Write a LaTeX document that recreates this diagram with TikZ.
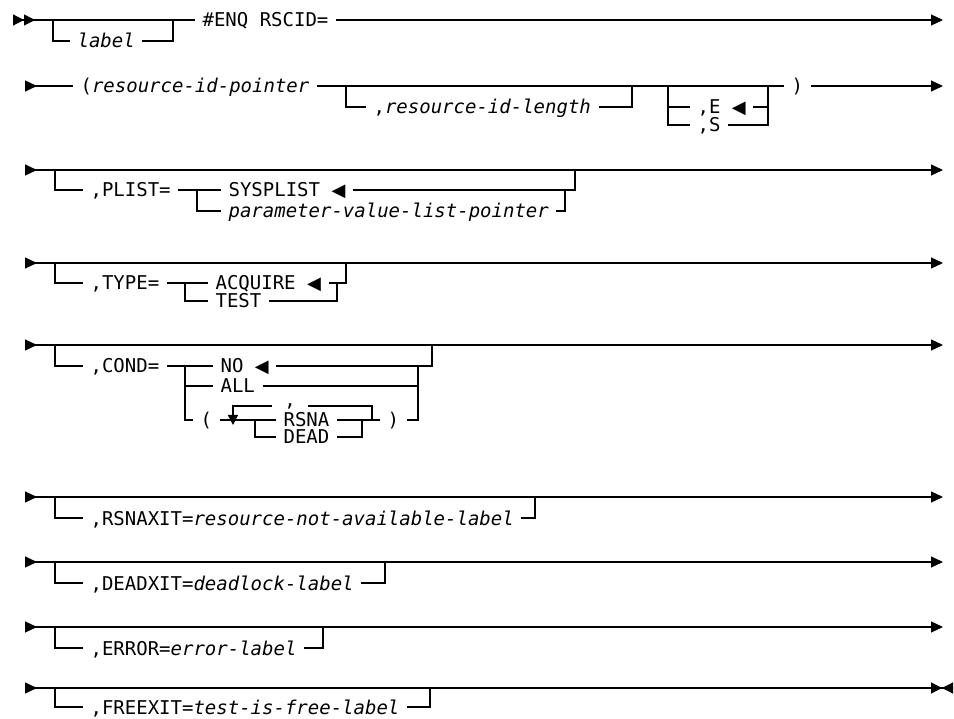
\documentclass[tikz,border=0pt]{standalone}
\usepackage{fontspec}
\setmainfont{DejaVu Sans Mono}
\newfontfamily\symf{DejaVu Sans}
\newcommand{\dflt}{{\symf\fontsize{18}{18}\selectfont ◀}}
\usetikzlibrary{arrows.meta}

\begin{document}
\begin{tikzpicture}[x=1pt,y=-1pt,line width=1.2pt,
  txt/.style={anchor=west,inner xsep=7pt,inner ysep=0pt,text height=14pt,text depth=0pt,font=\fontsize{19}{19}\selectfont},
  rail/.style={{Triangle[reversed,length=12pt,width=11pt]}-{Triangle[length=12pt,width=11pt]}},
  railin/.style={{Triangle[reversed,length=12pt,width=11pt]}-},
  railin2/.style={{Triangle[reversed,length=11pt,width=11pt,sep=0pt]Triangle[reversed,length=11pt,width=11pt,sep=0pt]}-},
  railout/.style={-{Triangle[length=12pt,width=11pt]}},
  railend/.style={{Triangle[reversed,length=12pt,width=11pt]}-{Triangle[length=11pt,width=11pt,sep=0pt]Triangle[reversed,length=11pt,width=11pt,sep=0pt]}},
  rep/.style={-{Triangle[length=10pt,width=10pt]}}]
  \useasboundingbox (0,0) rectangle (954,719);
  % --- radek 1: label, #ENQ RSCID= ---
  \coordinate (s1) at (13,20);
  \coordinate (e1) at (943,20);
  \coordinate (b1) at (53,20);
  \coordinate (j1) at (173,20);
  \node[txt] (lab) at (70,41) {\itshape label};
  \node[txt] (enq) at (195,20) {\#ENQ RSCID=};
  \draw[railin2] (s1) -- (enq.west);
  \draw[railout] (enq.east) -- (e1);
  \draw (b1) |- (lab.west);
  \draw (lab.east) -| (j1);
  % --- radek 2: resource-id ---
  \coordinate (s2) at (25,86);
  \coordinate (e2) at (943,86);
  \coordinate (b2) at (346,86);
  \coordinate (j2) at (632,86);
  \coordinate (ja) at (668,86);
  \coordinate (jb) at (768,86);
  \node[txt] (rptr) at (73,86) {(\textit{resource-id-pointer}};
  \node[txt] (rlen) at (366,107) {,\textit{resource-id-length}};
  \node[txt] (ce) at (690,107) {,E \dflt};
  \node[txt] (cs) at (690,125) {,S};
  \node[txt] (rpar) at (784,86) {)};
  \draw[railin] (s2) -- (rptr.west);
  \draw (rptr.east) -- (rpar.west);
  \draw[railout] (rpar.east) -- (e2);
  \draw (b2) |- (rlen.west);
  \draw (rlen.east) -| (j2);
  \draw (ja) |- (cs.west);
  \draw (ja |- ce.west) -- (ce.west);
  \draw (cs.east) -| (jb);
  \draw (ce.east) -- (ce.east -| jb);
  % --- radek 3: PLIST ---
  \coordinate (s3) at (25,170);
  \coordinate (e3) at (943,170);
  \coordinate (b3) at (55,170);
  \coordinate (f3) at (197,190);
  \coordinate (j3) at (575,170);
  \coordinate (k3) at (565,190);
  \node[txt] (plist) at (83,190) {,PLIST=};
  \node[txt] (sysp) at (221,190) {SYSPLIST \dflt};
  \node[txt] (pvl) at (221,211) {\itshape parameter-value-list-pointer};
  \draw[rail] (s3) -- (e3);
  \draw (b3) |- (plist.west);
  \draw (plist.east) -- (sysp.west);
  \draw (f3) |- (pvl.west);
  \draw (sysp.east) -| (j3);
  \draw (pvl.east) -| (k3);
  % --- radek 4: TYPE ---
  \coordinate (s4) at (25,263);
  \coordinate (e4) at (943,263);
  \coordinate (b4) at (55,263);
  \coordinate (f4) at (185,283);
  \coordinate (j4) at (346,263);
  \coordinate (k4) at (337,283);
  \node[txt] (type) at (83,283) {,TYPE=};
  \node[txt] (acq) at (208,283) {ACQUIRE \dflt};
  \node[txt] (test) at (208,301) {TEST};
  \draw[rail] (s4) -- (e4);
  \draw (b4) |- (type.west);
  \draw (type.east) -- (acq.west);
  \draw (f4) |- (test.west);
  \draw (acq.east) -| (j4);
  \draw (test.east) -| (k4);
  % --- radek 5: COND s opakovanim ---
  \coordinate (s5) at (25,345);
  \coordinate (e5) at (943,345);
  \coordinate (b5) at (55,345);
  \coordinate (f5) at (185,366);
  \coordinate (j5) at (432,345);
  \coordinate (k5) at (418,366);
  \coordinate (g5) at (255,420);
  \coordinate (h5) at (362,420);
  \coordinate (lr) at (372,420);
  \coordinate (ll) at (233,425);
  \node[txt] (cond) at (83,366) {,COND=};
  \node[txt] (no) at (213,366) {NO \dflt};
  \node[txt] (all) at (213,386) {ALL};
  \node[txt] (lp) at (193,420) {(};
  \node[txt] (rsna) at (276,420) {RSNA};
  \node[txt] (dead) at (276,437) {DEAD};
  \node[txt] (rp) at (380,420) {)};
  \node[inner sep=0pt,minimum width=34pt,font=\fontsize{19}{19}\selectfont] (cm) at (290,406) {,};
  \draw[rail] (s5) -- (e5);
  \draw (b5) |- (cond.west);
  \draw (cond.east) -- (no.west);
  \draw (f5) |- (lp.west);
  \draw (f5 |- all.west) -- (all.west);
  \draw (no.east) -| (j5);
  \draw (all.east) -- (all.east -| k5);
  \draw (rp.east) -| (k5);
  \draw (lp.east) -- (rsna.west);
  \draw (rsna.east) -- (rp.west);
  \draw (g5) |- (dead.west);
  \draw (dead.east) -| (h5);
  \draw (lr) |- (cm.east);
  \draw[rep] (cm.west) -| (ll);
  % --- radky 6-9: navesti ---
  \coordinate (s6) at (25,497);
  \coordinate (e6) at (943,497);
  \coordinate (b6) at (55,497);
  \coordinate (j6) at (535,497);
  \node[txt] (rsx) at (83,518) {,RSNAXIT=\textit{resource-not-available-label}};
  \draw[rail] (s6) -- (e6);
  \draw (b6) |- (rsx.west);
  \draw (rsx.east) -| (j6);
  \coordinate (s7) at (25,562);
  \coordinate (e7) at (943,562);
  \coordinate (b7) at (55,562);
  \coordinate (j7) at (385,562);
  \node[txt] (ddx) at (83,583) {,DEADXIT=\textit{deadlock-label}};
  \draw[rail] (s7) -- (e7);
  \draw (b7) |- (ddx.west);
  \draw (ddx.east) -| (j7);
  \coordinate (s8) at (25,627);
  \coordinate (e8) at (943,627);
  \coordinate (b8) at (55,627);
  \coordinate (j8) at (323,627);
  \node[txt] (err) at (83,648) {,ERROR=\textit{error-label}};
  \draw[rail] (s8) -- (e8);
  \draw (b8) |- (err.west);
  \draw (err.east) -| (j8);
  \coordinate (s9) at (25,688);
  \coordinate (e9) at (953,688);
  \coordinate (b9) at (55,688);
  \coordinate (j9) at (430,688);
  \node[txt] (frx) at (83,707) {,FREEXIT=\textit{test-is-free-label}};
  \draw[railend] (s9) -- (e9);
  \draw (b9) |- (frx.west);
  \draw (frx.east) -| (j9);
\end{tikzpicture}
\end{document}
